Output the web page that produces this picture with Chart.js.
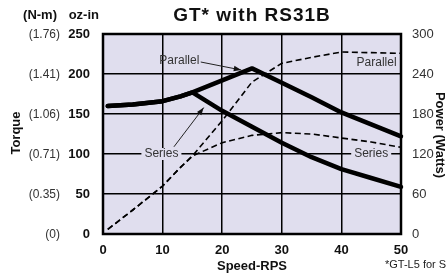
<!DOCTYPE html>
<html>
<head>
<meta charset="utf-8">
<script src="https://cdn.jsdelivr.net/npm/chart.js@4.4.1/dist/chart.umd.min.js"></script>
<style>
  html, body { margin: 0; padding: 0; background: #fff; }
  #c { display: block; }
</style>
</head>
<body>
<canvas id="c" width="448" height="277"></canvas>
<script>
/* GT* with RS31B — torque / power vs speed */

// ── data ──
const speedRps       = [0.8, 5, 10, 13, 15, 20, 25, 30, 35, 40, 45, 50];
const torqueParallel = [160, 162, 166, 172, 177, 192, 207, 189, 171, 152, 137, 122];
const torqueSeries   = [160, 162, 166, 172, 177, 154, 134, 114, 96, 81, 70, 59];
const powerParallel  = [7, 36, 72, 100, 117, 170, 228, 256, 265, 273, 272, 271];
const powerSeries    = [7, 36, 72, 100, 117, 137, 148, 152, 150, 144, 138, 130];

const torqueTicks = [0, 50, 100, 150, 200, 250];
const nmLabels    = ['(0)', '(0.35)', '(0.71)', '(1.06)', '(1.41)', '(1.76)'];
const powerTicks  = [0, 60, 120, 180, 240, 300];
const speedTicks  = [0, 10, 20, 30, 40, 50];

const BG = '#e0deee';
const FONT = '"Liberation Sans", Arial, sans-serif';

// callouts, in data units (x = rps, y = oz-in)
const callouts = [
  { text: 'Parallel', x: 12.8, y: 217, bg: false, arrow: [16.4, 215, 23.2, 205] },
  { text: 'Parallel', x: 45.9, y: 214, bg: false },
  { text: 'Series',   x: 9.8,  y: 100, bg: true,  arrow: [11.9, 109, 16.9, 158] },
  { text: 'Series',   x: 45.0, y: 100, bg: true },
];

const pts = ys => speedRps.map((x, i) => ({ x, y: ys[i] }));

function arrow(ctx, x1, y1, x2, y2) {
  const ang = Math.atan2(y2 - y1, x2 - x1);
  ctx.beginPath(); ctx.moveTo(x1, y1); ctx.lineTo(x2, y2); ctx.stroke();
  ctx.beginPath();
  ctx.moveTo(x2, y2);
  ctx.lineTo(x2 - 8 * Math.cos(ang - 0.35), y2 - 8 * Math.sin(ang - 0.35));
  ctx.lineTo(x2 - 8 * Math.cos(ang + 0.35), y2 - 8 * Math.sin(ang + 0.35));
  ctx.closePath(); ctx.fill();
}

const decor = {
  id: 'decor',
  beforeDraw(chart) {
    const { ctx, chartArea: a } = chart;
    ctx.save();
    ctx.fillStyle = BG;
    ctx.fillRect(a.left, a.top, a.right - a.left, a.bottom - a.top);
    ctx.restore();
  },
  afterDraw(chart) {
    const { ctx, chartArea: a, scales } = chart;
    const sx = scales.x, sy = scales.y;
    ctx.save();

    // plot frame
    ctx.strokeStyle = '#000'; ctx.lineWidth = 2.5;
    ctx.strokeRect(a.left, a.top, a.right - a.left, a.bottom - a.top);

    // title
    ctx.fillStyle = '#111';
    ctx.font = 'bold 19px ' + FONT;
    ctx.textAlign = 'center'; ctx.textBaseline = 'middle';
    ctx.letterSpacing = '1px';
    ctx.fillText('GT* with RS31B', (a.left + a.right) / 2, 16);
    ctx.letterSpacing = '0px';

    // left headers + N-m column
    ctx.font = 'bold 13px ' + FONT;
    ctx.textAlign = 'right';
    ctx.fillText('(N-m)', 57, 15);
    ctx.fillText('oz-in', 99, 15);
    ctx.font = '12px ' + FONT; ctx.fillStyle = '#333';
    torqueTicks.forEach((t, i) => ctx.fillText(nmLabels[i], 60, sy.getPixelForValue(t) + 1));

    // axis titles
    ctx.fillStyle = '#111';
    ctx.font = 'bold 13px ' + FONT; ctx.textAlign = 'center';
    ctx.fillText('Speed-RPS', (a.left + a.right) / 2, 266);
    ctx.save(); ctx.translate(16, 133); ctx.rotate(-Math.PI / 2);
    ctx.fillText('Torque', 0, 0); ctx.restore();
    ctx.save(); ctx.translate(440, 135); ctx.rotate(Math.PI / 2);
    ctx.fillText('Power (Watts)', 0, 0); ctx.restore();

    // footnote
    ctx.font = '11px ' + FONT; ctx.textAlign = 'left'; ctx.fillStyle = '#222';
    ctx.fillText('*GT-L5 for S', 385, 265);

    // callouts
    ctx.font = '12px ' + FONT; ctx.textAlign = 'center';
    ctx.strokeStyle = '#222'; ctx.lineWidth = 1;
    callouts.forEach(c => {
      const px = sx.getPixelForValue(c.x), py = sy.getPixelForValue(c.y);
      const w = ctx.measureText(c.text).width;
      if (c.bg) { ctx.fillStyle = BG; ctx.fillRect(px - w / 2 - 3, py - 6, w + 6, 12); }
      ctx.fillStyle = '#333';
      ctx.fillText(c.text, px, py);
      if (c.arrow) {
        ctx.fillStyle = '#111';
        const [x1, y1, x2, y2] = c.arrow;
        arrow(ctx, sx.getPixelForValue(x1), sy.getPixelForValue(y1),
                   sx.getPixelForValue(x2), sy.getPixelForValue(y2));
      }
    });
    ctx.restore();
  }
};

const solid = { borderColor: '#000', borderWidth: 4.5, pointRadius: 0, fill: false, tension: 0,
                borderCapStyle: 'round', borderJoinStyle: 'round', yAxisID: 'y', clip: 4 };
const dashed = { borderColor: '#000', borderWidth: 1.6, borderDash: [6, 3.5], pointRadius: 0,
                 fill: false, tension: 0, yAxisID: 'y2', clip: 4 };

new Chart(document.getElementById('c'), {
  type: 'line',
  data: {
    datasets: [
      { ...solid,  label: 'Torque Parallel', data: pts(torqueParallel) },
      { ...solid,  label: 'Torque Series',   data: pts(torqueSeries) },
      { ...dashed, label: 'Power Parallel',  data: pts(powerParallel) },
      { ...dashed, label: 'Power Series',    data: pts(powerSeries) },
    ]
  },
  options: {
    responsive: false, animation: false, devicePixelRatio: 1,
    layout: { padding: { top: 34, left: 0, right: 0, bottom: 0 } },
    plugins: { legend: { display: false }, tooltip: { enabled: false } },
    scales: {
      x: {
        type: 'linear', min: 0, max: 50,
        afterBuildTicks: s => { s.ticks = speedTicks.map(v => ({ value: v })); },
        afterFit: s => { s.height = 43; },
        grid: { color: '#000', lineWidth: 1.5, drawTicks: false },
        border: { display: false },
        ticks: { padding: 9, color: '#111', font: { family: FONT, size: 13, weight: 'bold' }, maxRotation: 0 }
      },
      y: {
        position: 'left', min: 0, max: 250,
        afterBuildTicks: s => { s.ticks = torqueTicks.map(v => ({ value: v })); },
        afterFit: s => { s.width = 103; },
        grid: { color: '#000', lineWidth: 1.5, drawTicks: false },
        border: { display: false },
        ticks: { padding: 13, color: '#111', font: { family: FONT, size: 13, weight: 'bold' } }
      },
      y2: {
        position: 'right', min: 0, max: 300,
        afterBuildTicks: s => { s.ticks = powerTicks.map(v => ({ value: v })); },
        afterFit: s => { s.width = 47; },
        grid: { display: false, drawTicks: false },
        border: { display: false },
        ticks: { padding: 11, color: '#333', font: { family: FONT, size: 13 } }
      }
    }
  },
  plugins: [decor]
});
</script>
</body>
</html>
